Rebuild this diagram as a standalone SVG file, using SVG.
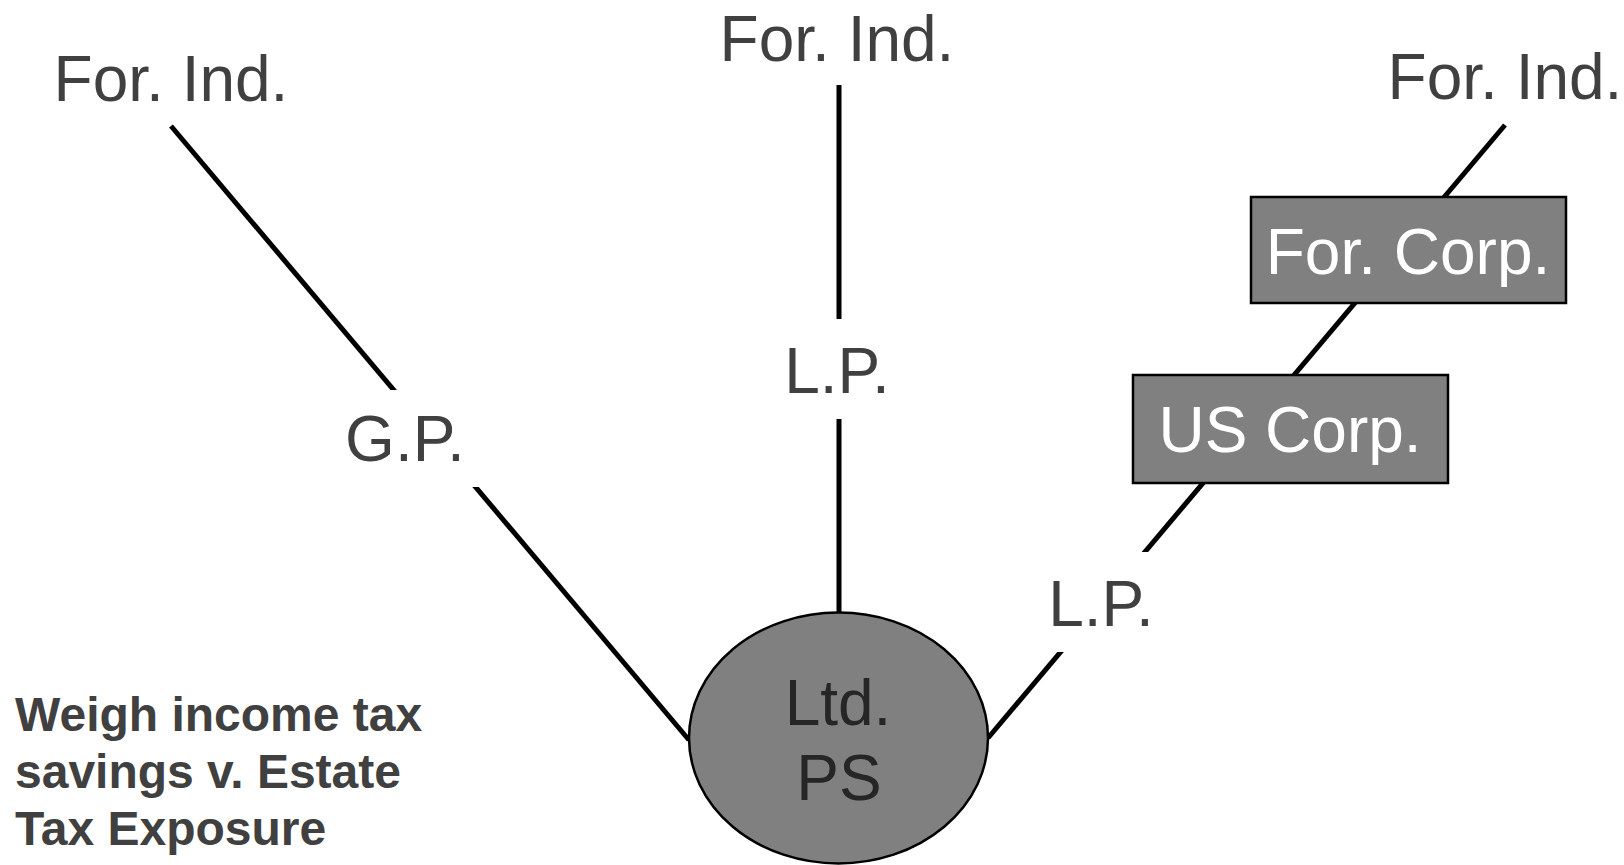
<svg xmlns="http://www.w3.org/2000/svg" width="1624" height="865" viewBox="0 0 1624 865">
<style>
.lbl{font-family:"Liberation Sans",Arial,sans-serif;font-size:64px;fill:#404040;text-anchor:middle}
.wt{font-family:"Liberation Sans",Arial,sans-serif;font-size:64px;fill:#ffffff;text-anchor:middle}
.dk{font-family:"Liberation Sans",Arial,sans-serif;font-size:64px;fill:#262626;text-anchor:middle}
.note{font-family:"Liberation Sans",Arial,sans-serif;font-size:48px;font-weight:bold;fill:#404040}
.conn{stroke:#000;stroke-width:5;fill:none}
.box{fill:#808080;stroke:#000;stroke-width:2.5}
.bg{fill:#fff}
</style>
<rect width="1624" height="865" fill="#fff"/>
<g id="connectors">
<line class="conn" x1="171" y1="126" x2="689" y2="740"/>
<line class="conn" x1="839" y1="85" x2="839" y2="613"/>
<line class="conn" x1="988" y1="738" x2="1505" y2="125"/>
</g>
<g id="for-ind-left"><text class="lbl" x="171" y="101">For. Ind.</text></g>
<g id="for-ind-center"><text class="lbl" x="837" y="61">For. Ind.</text></g>
<g id="for-ind-right"><text class="lbl" x="1505" y="99">For. Ind.</text></g>
<g id="gp"><rect class="bg" x="330" y="390" width="150" height="97"/><text class="lbl" x="405" y="461">G.P.</text></g>
<g id="lp-center"><rect class="bg" x="775" y="319" width="125" height="100"/><text class="lbl" x="837" y="393">L.P.</text></g>
<g id="lp-right"><rect class="bg" x="1040" y="552" width="122" height="100"/><text class="lbl" x="1101" y="626">L.P.</text></g>
<g id="for-corp"><rect class="box" x="1251" y="197" width="315" height="106"/><text class="wt" x="1408" y="274">For. Corp.</text></g>
<g id="us-corp"><rect class="box" x="1133" y="375" width="315" height="108"/><text class="wt" x="1290" y="452">US Corp.</text></g>
<g id="ltd-ps"><ellipse class="box" cx="838.5" cy="738" rx="149.5" ry="125.5"/><text class="dk" x="838" y="725">Ltd.</text><text class="dk" x="839" y="800">PS</text></g>
<g id="note"><text class="note" x="15" y="731">Weigh income tax</text><text class="note" x="15" y="788">savings v. Estate</text><text class="note" x="15" y="845">Tax Exposure</text></g>
</svg>
